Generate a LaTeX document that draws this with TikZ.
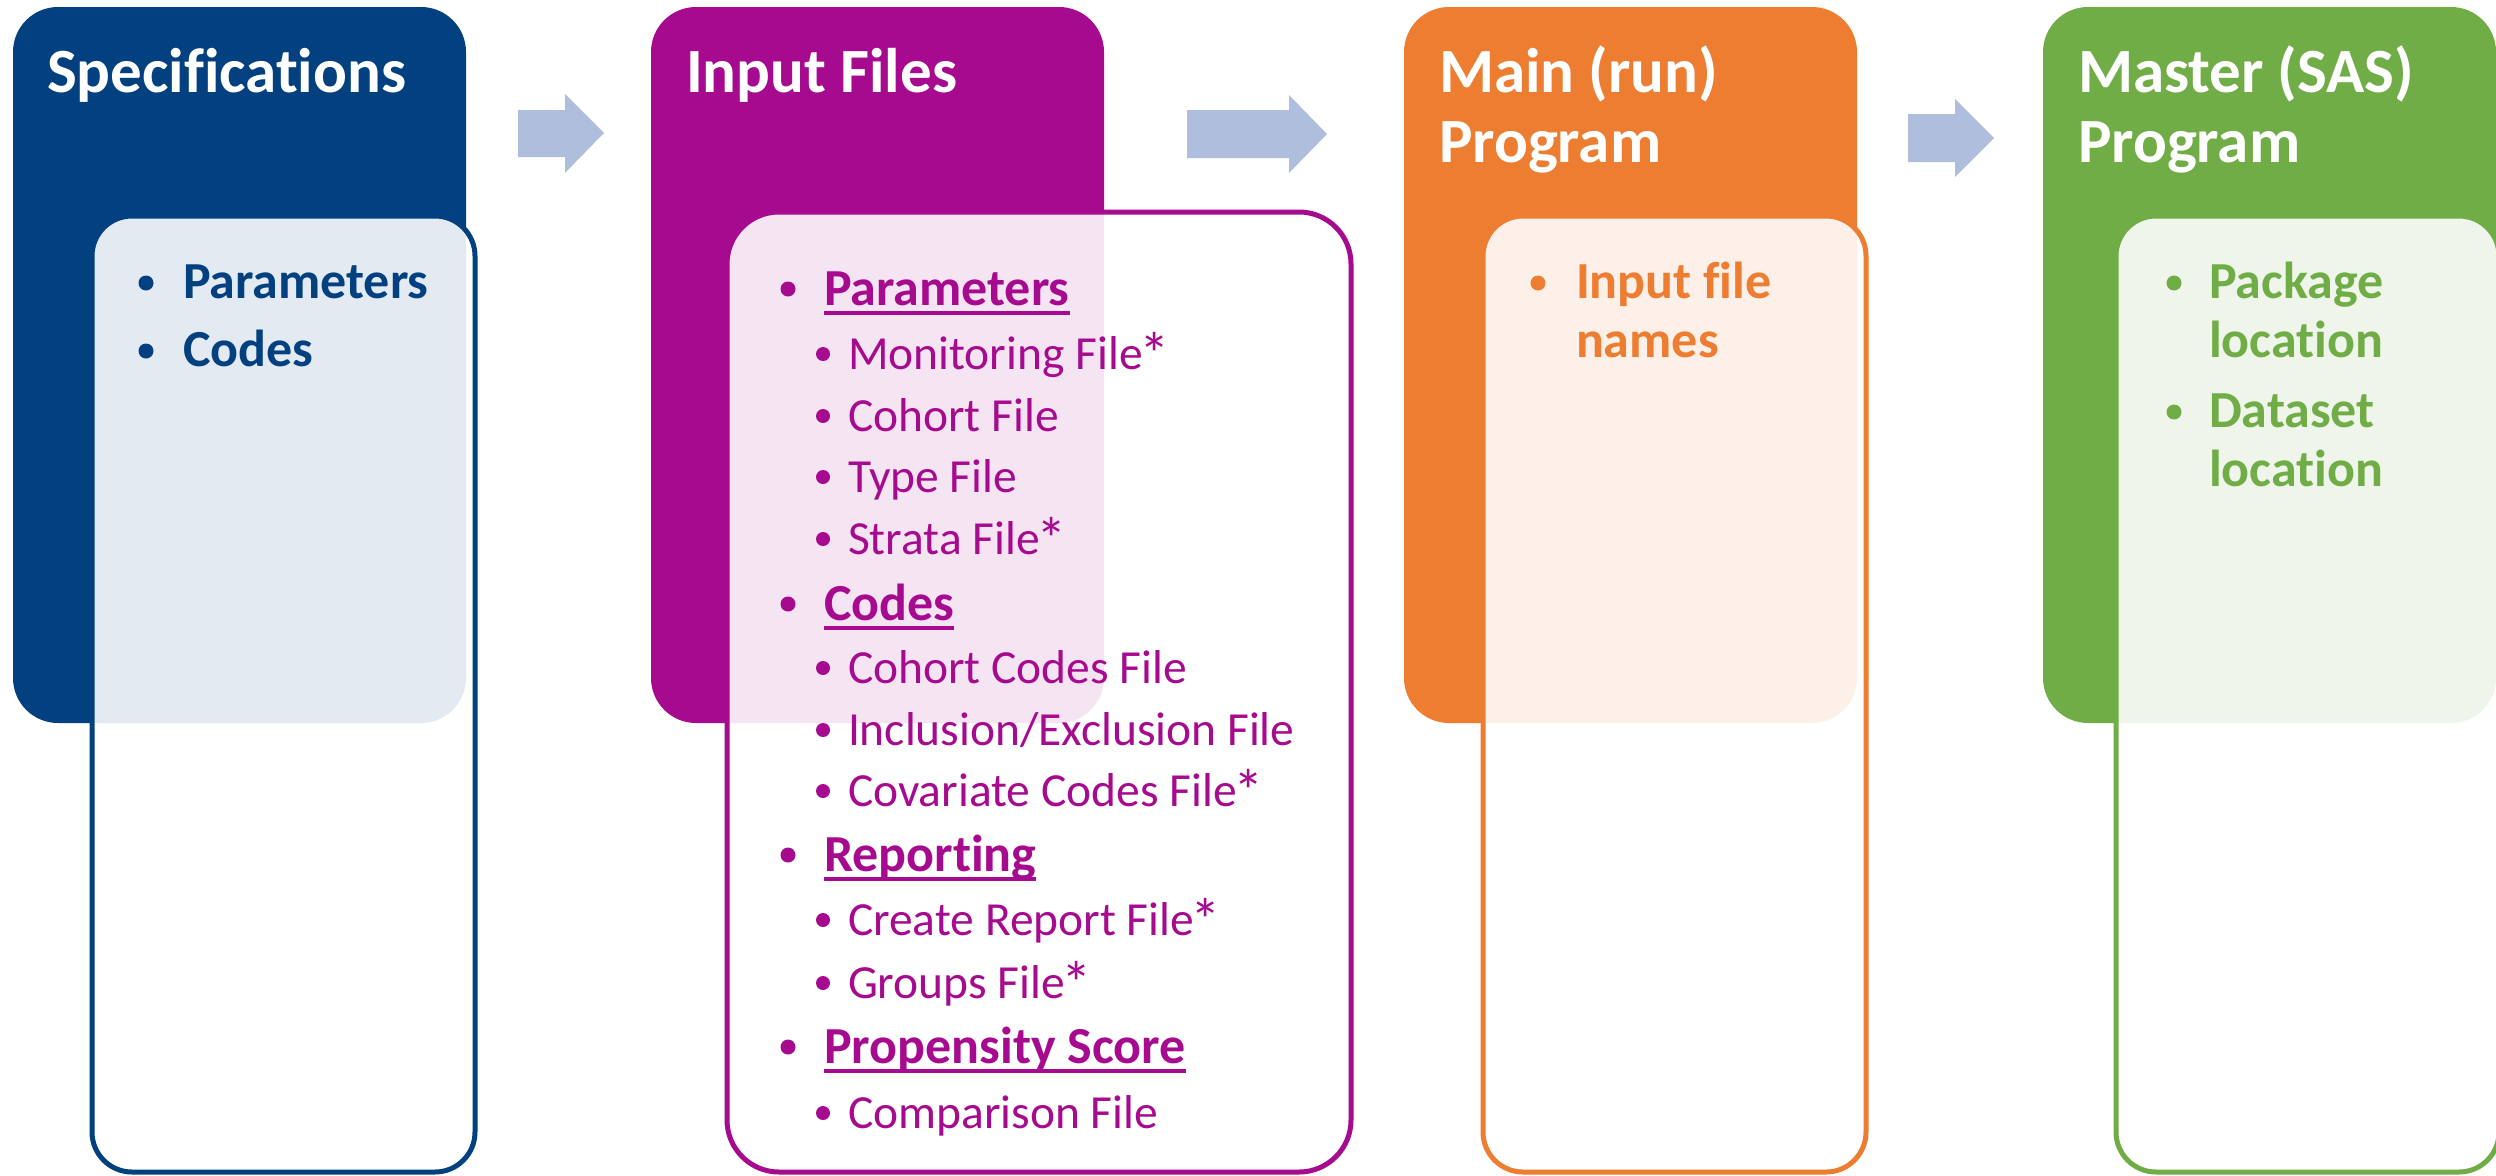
\documentclass[tikz,border=0pt]{standalone}
\usepackage{fontspec}
\setmainfont{Carlito}[Ligatures=NoCommon]

\definecolor{specblue}{RGB}{2,64,128}
\definecolor{inputmag}{RGB}{166,11,143}
\definecolor{mainorange}{RGB}{237,125,49}
\definecolor{mastergreen}{RGB}{112,173,71}
\definecolor{flowarrow}{RGB}{176,190,222}

\newcommand\stgtitlefont{\fontsize{63}{70}\selectfont\bfseries}
\newcommand\lvlonefont{\fontsize{52}{60}\selectfont\bfseries}
\newcommand\lvltwofont{\fontsize{47.5}{55}\selectfont}
% optional-file marker, set a little larger than the plain asterisk
\newcommand\optmark{\kern-0.07em\raisebox{-0.14em}{\scalebox{1.28}{*}}}

\tikzset{
  panel/.style={rectangle, rounded corners=45pt, inner sep=0pt, outer sep=0pt,
    anchor=north west, draw=none, minimum width=453pt, minimum height=716pt},
  card/.style={rectangle, rounded corners=40pt, inner sep=0pt, outer sep=0pt,
    anchor=north west, line width=5pt, fill=white, fill opacity=0.89, draw opacity=1},
  stitle/.style={anchor=base west, inner sep=0pt, outer sep=0pt, text=white, font=\stgtitlefont},
  lvlone/.style={anchor=base west, inner sep=0pt, outer sep=0pt, font=\lvlonefont},
  lvltwo/.style={anchor=base west, inner sep=0pt, outer sep=0pt, font=\lvltwofont},
  uline/.style={line width=4pt},
  flowarr/.style={fill=flowarrow, draw=none},
}

\begin{document}
\begin{tikzpicture}[x=1pt,y=-1pt]
\useasboundingbox (0,0) rectangle (2496,1175);
\fill[white] (0,0) rectangle (2496,1175);

% ---------- Specifications ----------
\node[panel, fill=specblue] (specPanel) at (13,7) {};
\node[card, draw=specblue, minimum width=383pt, minimum height=956pt] (specCard) at (92,216) {};
\node[stitle] (specTitle) at (47,92) {Specifications};
\fill[specblue] (146,283) circle (7.5pt);
\node[lvlone, text=specblue] (specParam) at (183,298) {Parameters};
\fill[specblue] (146,351) circle (7.5pt);
\node[lvlone, text=specblue] (specCodes) at (183,366) {Codes};

% ---------- Input Files ----------
\node[panel, fill=inputmag] (inputPanel) at (651,7) {};
\node[card, draw=inputmag, rounded corners=52pt, minimum width=624pt, minimum height=960pt] (inputCard) at (727,212) {};
\node[stitle] (inputTitle) at (686,92) {Input Files};

\begin{scope}[inputmag]
  % group headings
  \foreach \nm/\yy/\tx in {inParam/305/Parameters, inCodes/620/Codes,
                           inReport/871/Reporting, inProp/1063/Propensity Score}{
    \fill (788,\yy-16) circle (7.5pt);
    \node[lvlone, text=inputmag] (\nm) at (824,\yy) {\tx};
    \draw[uline] ([yshift=-8pt]\nm.base west) -- ([yshift=-8pt]\nm.base east);
  }
  % file entries
  \foreach \nm/\yy/\tx in {inMon/369/Monitoring File\optmark, inCohort/431/Cohort File,
                           inType/492/Type File, inStrata/554/Strata File\optmark,
                           inCohCodes/683/Cohort Codes File, inIncl/745/{Inclusion/Exclusion File},
                           inCov/806/Covariate Codes File\optmark, inCreate/935/Create Report File\optmark,
                           inGroups/998/Groups File\optmark, inComp/1128/Comparison File}{
    \fill (823,\yy-15) circle (7pt);
    \node[lvltwo, text=inputmag] (\nm) at (848,\yy) {\tx};
  }
\end{scope}

% ---------- Main (run) Program ----------
\node[panel, fill=mainorange] (mainPanel) at (1404,7) {};
\node[card, draw=mainorange, minimum width=383pt, minimum height=956pt] (mainCard) at (1483,216) {};
\node[stitle] (mainTitleA) at (1439,92) {Main (run)};
\node[stitle] (mainTitleB) at (1439,162) {Program};
\fill[mainorange] (1538,283) circle (7.5pt);
\node[lvlone, text=mainorange] (mainInA) at (1576,298) {Input file};
\node[lvlone, text=mainorange] (mainInB) at (1576,357) {names};

% ---------- Master (SAS) Program ----------
\node[panel, fill=mastergreen] (masterPanel) at (2043,7) {};
\node[card, draw=mastergreen, minimum width=383pt, minimum height=956pt] (masterCard) at (2116,216) {};
\node[stitle] (masterTitleA) at (2078,92) {Master (SAS)};
\node[stitle] (masterTitleB) at (2078,162) {Program};
\fill[mastergreen] (2174,283) circle (7.5pt);
\node[lvlone, text=mastergreen] (masterPkgA) at (2209,298) {Package};
\node[lvlone, text=mastergreen] (masterPkgB) at (2209,357) {location};
\fill[mastergreen] (2174,412) circle (7.5pt);
\node[lvlone, text=mastergreen] (masterDsA) at (2209,427) {Dataset};
\node[lvlone, text=mastergreen] (masterDsB) at (2209,486) {location};

% ---------- flow arrows ----------
\fill[flowarr] (518,110) -- (565,110) -- (565,94) -- (604,133) -- (565,173) -- (565,157) -- (518,157) -- cycle;
\fill[flowarr] (1187,110) -- (1289,110) -- (1289,95) -- (1327,134) -- (1289,173) -- (1289,158) -- (1187,158) -- cycle;
\fill[flowarr] (1908,114) -- (1955,114) -- (1955,99) -- (1994,138) -- (1955,177) -- (1955,162) -- (1908,162) -- cycle;
\end{tikzpicture}
\end{document}
